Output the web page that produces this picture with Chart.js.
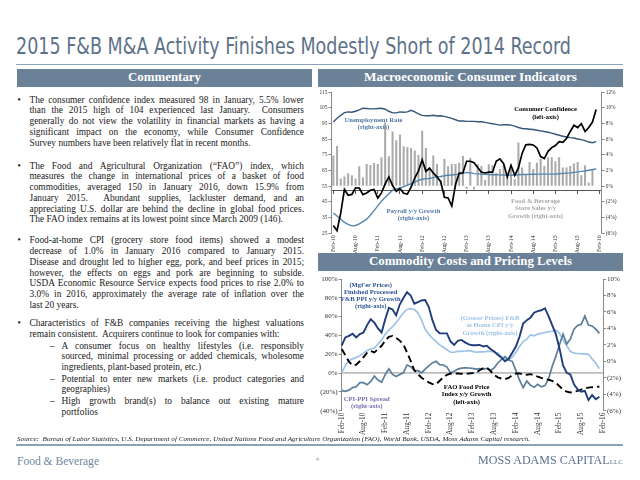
<!DOCTYPE html>
<html>
<head>
<meta charset="utf-8">
<script src="https://cdn.jsdelivr.net/npm/chart.js@4.4.1/dist/chart.umd.min.js"></script>
<style>
body { margin: 0; background: #fff; }
#page { position: relative; width: 640px; height: 480px; overflow: hidden; font-family: 'Liberation Serif', serif; color: #1a1a1a; }
.abs { position: absolute; }
.fit { display: inline-block; white-space: nowrap; transform-origin: 0 50%; }
.bar { position: absolute; background: #6b8198; color: #fff; font-weight: bold; font-size: 12px; line-height: 17.5px; height: 17.5px; }
.bar .fit { position: absolute; top: 0; }
.para { position: absolute; left: 29.5px; width: 274.5px; font-size: 9.4px; line-height: 10.75px; }
.para div { white-space: nowrap; text-align: justify; text-align-last: justify; }
.para div.last { text-align-last: left; }
.bul { position: absolute; font-size: 9.4px; line-height: 10.75px; }
.note { position: absolute; font-weight: bold; font-size: 6.6px; line-height: 7.3px; text-align: center; white-space: nowrap; transform: translateX(-50%); }
canvas { position: absolute; }
</style>
</head>
<body>
<div id="page">
  <div class="abs" style="left:16px;top:32px;font-size:23px;line-height:28px;color:#5d7289;">
    <span class="fit" data-w="555" style="font-family:'Liberation Sans Narrow','DejaVu Sans Condensed',sans-serif;">2015 F&amp;B M&amp;A Activity Finishes Modestly Short of 2014 Record</span>
  </div>
  <div class="abs" style="left:16px;top:63.5px;width:607px;height:1.6px;background:#8ea2b6;"></div>

  <div class="bar" style="left:16.5px;top:69px;width:295px;"><span class="fit" data-w="73" data-cx="147.5">Commentary</span></div>
  <div class="bar" style="left:318px;top:69px;width:305px;"><span class="fit" data-w="213" data-cx="152.5">Macroeconomic Consumer Indicators</span></div>
  <div class="bar" style="left:318px;top:253.3px;width:305px;"><span class="fit" data-w="203" data-cx="152.5">Commodity Costs and Pricing Levels</span></div>

  <div class="bul" style="left:17.5px;top:94.6px;">•</div>
  <div class="para" style="top:94.6px;">
    <div>The consumer confidence index measured 98 in January, 5.5% lower</div>
    <div>than the 2015 high of 104 experienced last January.&nbsp; Consumers</div>
    <div>generally do not view the volatility in financial markets as having a</div>
    <div>significant impact on the economy, while Consumer Confidence</div>
    <div class="last">Survey numbers have been relatively flat in recent months.</div>
  </div>

  <div class="bul" style="left:17.5px;top:160.6px;">•</div>
  <div class="para" style="top:160.6px;">
    <div>The Food and Agricultural Organization (“FAO”) index, which</div>
    <div>measures the change in international prices of a basket of food</div>
    <div>commodities, averaged 150 in January 2016, down 15.9% from</div>
    <div>January 2015.&nbsp; Abundant supplies, lackluster demand, and an</div>
    <div>appreciating U.S. dollar are behind the decline in global food prices.</div>
    <div class="last">The FAO index remains at its lowest point since March 2009 (146).</div>
  </div>

  <div class="bul" style="left:17.5px;top:235.3px;">•</div>
  <div class="para" style="top:235.3px;">
    <div>Food-at-home CPI (grocery store food items) showed a modest</div>
    <div>decrease of 1.0% in January 2016 compared to January 2015<span style="color:#c00000;">.</span></div>
    <div>Disease and drought led to higher egg, pork, and beef prices in 2015;</div>
    <div>however, the effects on eggs and pork are beginning to subside.</div>
    <div>USDA Economic Resource Service expects food prices to rise 2.0% to</div>
    <div>3.0% in 2016, approximately the average rate of inflation over the</div>
    <div class="last">last 20 years.</div>
  </div>

  <div class="bul" style="left:17.5px;top:318px;">•</div>
  <div class="para" style="top:318px;">
    <div>Characteristics of F&amp;B companies receiving the highest valuations</div>
    <div class="last">remain consistent.&nbsp; Acquirers continue to look for companies with:</div>
  </div>
  <div class="bul" style="left:50px;top:340.6px;">–</div>
  <div class="para" style="left:61.5px;width:242.5px;top:340.6px;">
    <div>A consumer focus on healthy lifestyles (i.e. responsibly</div>
    <div>sourced, minimal processing or added chemicals, wholesome</div>
    <div class="last">ingredients, plant-based protein, etc.)</div>
  </div>
  <div class="bul" style="left:50px;top:373.6px;">–</div>
  <div class="para" style="left:61.5px;width:242.5px;top:373.6px;">
    <div>Potential to enter new markets (i.e. product categories and</div>
    <div class="last">geographies)</div>
  </div>
  <div class="bul" style="left:50px;top:396.3px;">–</div>
  <div class="para" style="left:61.5px;width:242.5px;top:396.3px;">
    <div>High growth brand(s) to balance out existing mature</div>
    <div class="last">portfolios</div>
  </div>

  <canvas id="macroChart" width="320" height="180" style="left:310px;top:88px;width:320px;height:180px;"></canvas>
  <canvas id="commodityChart" width="320" height="180" style="left:310px;top:273px;width:320px;height:180px;"></canvas>

  <div class="note" style="left:545.5px;top:105.3px;color:#000;"><div>Consumer Confidence</div><div>(left-axis)</div></div>
  <div class="note" style="left:373.5px;top:115.6px;color:#4f79a6;"><div>Unemployment Rate</div><div>(right-axis)</div></div>
  <div class="note" style="left:413.5px;top:207px;color:#4f79a6;"><div>Payroll y/y Growth</div><div>(right-axis)</div></div>
  <div class="note" style="left:535.5px;top:197px;color:#a8a8a8;"><div>Food &amp; Beverage</div><div>Store Sales y/y</div><div>Growth (right-axis)</div></div>

  <div class="note" style="left:370.7px;top:280.6px;color:#2e5597;"><div>(Mgf'er Prices)</div><div>Finished Processed</div><div>F&amp;B PPI y/y Growth</div><div>(right-axis)</div></div>
  <div class="note" style="left:490px;top:314px;color:#9dc3e6;"><div>(Grocer Prices) F&amp;B</div><div>at Home CPI y/y</div><div>Growth (right-axis)</div></div>
  <div class="note" style="left:466.7px;top:383px;color:#000;"><div>FAO Food Price</div><div>Index y/y Growth</div><div>(left-axis)</div></div>
  <div class="note" style="left:366.7px;top:394.6px;color:#7b6fb0;"><div>CPI-PPI Spread</div><div>(right-axis)</div></div>

  <div class="abs" style="left:16.7px;top:434.5px;font-size:7px;line-height:9px;font-style:italic;color:#222;">
    <span class="fit" data-w="513">Source:&nbsp; Bureau of Labor Statistics, U.S. Department of Commerce, United Nations Food and Agriculture Organization (FAO), World Bank, USDA, Moss Adams Capital research.</span>
  </div>
  <div class="abs" style="left:16px;top:444px;width:607px;height:1.8px;background:#8ea2b6;"></div>

  <div class="abs" style="left:16.7px;top:452.5px;font-size:12px;line-height:16px;color:#6f87a0;"><span class="fit" data-w="82">Food &amp; Beverage</span></div>
  <div class="abs" style="left:315.5px;top:454.5px;font-size:7px;line-height:9px;color:#999;">4</div>
  <div class="abs" style="left:478px;top:452px;font-size:12px;line-height:16px;color:#5a7390;"><span class="fit" data-w="145">MOSS ADAMS CAPITAL<span style="font-size:7px;">LLC</span></span></div>
</div>

<script>
// month categories Feb-10 .. Feb-16
const monthNames = ['Jan', 'Feb', 'Mar', 'Apr', 'May', 'Jun', 'Jul', 'Aug', 'Sep', 'Oct', 'Nov', 'Dec'];
const months = [];
for (let k = 0; k < 73; k++) {
    months.push(monthNames[(1 + k) % 12] + '-' + (10 + Math.floor((1 + k) / 12)));
}

// Macroeconomic consumer indicators
const consumerConfidence = [
    30, 26.7, 38, 53, 49.3, 49.8, 54, 53.9, 49.7, 50.7,
    52.4, 53, 47.5, 50.8, 56.5, 61, 55.5, 51.8, 53.6, 50.5,
    50, 54.4, 60.3, 64.8, 72, 64.6, 66.5, 63.5, 61, 58,
    48, 47.6, 42.5, 56, 63.5, 63.5, 71, 71, 70, 67,
    64, 63.5, 64, 64, 71, 72.5, 69.5, 61, 68.4, 62,
    66.7, 76, 81.5, 81.8, 81.4, 79.5, 74, 72.7, 77.3, 79.7,
    81, 83.5, 83, 85.5, 90, 94, 92.5, 95, 90, 92.5,
    96, 104
];
const unemploymentRate = [
    8.2, 8.7, 9.06, 9.4, 9.5, 9.45, 9.58, 9.75, 9.97, 9.93,
    9.88, 9.88, 9.93, 9.97, 9.84, 9.58, 9.37, 9.37, 9.5, 9.45,
    9.5, 9.71, 9.5, 9.24, 9.06, 9.0, 9.0, 9.06, 8.98, 9.0,
    8.93, 8.8, 8.67, 8.5, 8.33, 8.33, 8.29, 8.29, 8.29, 8.24,
    8.24, 8.16, 8.07, 7.98, 7.9, 7.81, 7.86, 7.86, 7.81, 7.68,
    7.51, 7.38, 7.34, 7.29, 7.25, 7.16, 7.08, 6.99, 6.9, 6.78,
    6.65, 6.52, 6.39, 6.3, 6.21, 6.17, 6.04, 5.96, 5.83, 5.65,
    5.57, 5.7
];
const payrollGrowth = [
    -3.4, -3.8, -4.2, -4.6, -4.85, -5.05, -5.0, -4.8, -4.5, -4.2,
    -3.7, -3.1, -2.5, -1.9, -1.4, -0.95, -0.5, -0.35, -0.2, -0.05,
    0.15, 0.35, 0.55, 0.75, 0.9, 0.98, 1.0, 1.1, 1.2, 1.25,
    1.35, 1.42, 1.45, 1.5, 1.55, 1.65, 1.77, 1.72, 1.62, 1.58,
    1.55, 1.52, 1.5, 1.48, 1.47, 1.46, 1.44, 1.43, 1.42, 1.45,
    1.48, 1.5, 1.51, 1.52, 1.53, 1.55, 1.55, 1.55, 1.55, 1.55,
    1.56, 1.6, 1.65, 1.68, 1.72, 1.78, 1.84, 1.9, 1.95, 2.05,
    2.15, 2.2
];
const storeSalesGrowth = [
    3.93, 5.14, 0.99, 1.25, 1.68, 1.42, 0.99, 2.55, 1.12, 2.85,
    2.72, 2.98, 2.85, 3.71, 8.16, 3.84, 7.0, 5.87, 6.6, 5.1,
    5.0, 4.88, 4.57, 4.0, 7.08, 4.88, 2.42, 3.93, 2.85, 0.82,
    3.5, 2.55, 2.85, 2.85, 3.0, 3.9, -0.3, 3.6, -0.4, 2.8,
    2.6, 0.8, 2.8, 2.7, 1.7, 2.2, 2.7, 1.3, 2.2, 0.9,
    5.6, 2.4, 1.5, 3.1, 2.2, 3.0, 3.5, 2.6, 3.7, 3.7,
    3.2, 3.7, 2.4, 2.4, 2.6, 2.9, 3.1, 1.4, 2.7, 0.5,
    2.1
];
const macroLeftTicks = {min: 25, max: 115, step: 10};
const macroRightTicks = {min: -6, max: 12, step: 2};
const categoryCrossing = -0.6;

// Commodity costs and pricing levels
const ppiGrowth = [
    1.9, 2.9, 3.1, 3.35, 2.9, 3.3, 3.5, 4.4, 5.1, 4.7,
    4.0, 3.5, 5.1, 6.5, 6.3, 5.6, 6.9, 7.7, 8.4, 8.0,
    7.0, 7.2, 7.4, 7.45, 6.6, 5.0, 3.8, 3.4, 3.4, 3.4,
    2.4, 2.0, 2.5, 2.6, 2.3, 2.05, 1.95, 1.95, 2.0, 1.8,
    1.9, 1.5, 1.2, 0.8, 0.45, 0.0, 0.3, 1.05, 1.8, 3.0,
    4.6, 5.0, 5.3, 5.9, 6.1, 6.2, 6.45, 5.5, 4.4, 3.3,
    1.6, -0.5, -1.4, -1.6, -2.8, -3.4, -3.7, -3.6, -4.7, -4.1,
    -4.6, -4.3
];
const cpiGrowth = [
    -1.4, -0.5, 0.1, 0.3, 0.48, 0.68, 1.0, 1.3, 1.5, 1.6,
    2.1, 2.6, 3.3, 3.8, 4.2, 4.7, 5.3, 5.9, 6.3, 6.4,
    6.3, 5.9, 5.0, 3.9, 3.3, 2.8, 2.4, 2.0, 1.7, 1.4,
    1.1, 1.1, 1.2, 1.2, 1.25, 1.3, 1.2, 1.1, 1.15, 1.15,
    1.2, 1.2, 1.15, 1.0, 0.6, 0.25, 0.2, 0.5, 1.1, 1.8,
    2.4, 2.7, 3.2, 3.1, 3.3, 3.4, 3.5, 3.6, 3.65, 3.8,
    3.4, 2.6, 1.9, 1.2, 1.0, 0.95, 0.9, 0.9, 0.85, 0.3,
    -0.2, -0.9
];
const cpiPpiSpread = [
    -3.57, -3.65, -3.5, -3.2, -3.1, -2.6, -2.6, -2.85, -2.45, -1.8,
    -2.27, -2.55, -1.6, -0.9, -1.6, -1.85, -1.6, -1.4, -0.45, -0.65,
    -1.1, -1.14, -1.4, -0.94, -0.55, -0.2, 0, -0.4, -0.45, -0.7,
    -1.4, -1.2, -0.95, -0.82, -0.8, -0.81, -0.85, -0.94, -0.9, -0.94,
    -0.85, -1.14, -0.8, -0.2, 0.2, 0.56, 0.15, 0.0, -1.1, -2.3,
    -3.2, -2.4, -2.9, -3.16, -2.8, -3.1, -2.95, -2.15, -0.6, 0.6,
    2.0, 3.3, 2.1, 2.7, 3.9, 4.35, 4.5, 5.5, 4.4, 4.3,
    3.9, 3.4
];
const faoGrowth = [
    25.5, 19, 12, 8, 9, 12.5, 17, 21.5, 23.5, 22,
    25.5, 29, 34.5, 38.5, 39.5, 37.5, 34.5, 30.5, 22, 13,
    3, -1, -4.9, -7.4, -9.9, -11.8, -12, -8.2, -4.5, -1.8,
    -0.5, -0.4, -0.4, -0.8, -0.8, -0.5, 0, 0.5, 3, 5.3,
    5.8, 2.3, -2, -4.5, -5.8, -6.4, -5.2, -2.3, -0.5, -0.4,
    -1.4, -1.8, -1.1, -2.3, -3.8, -5.2, -6.4, -7.1, -8.4, -10.2,
    -14, -17.5, -19.8, -20.6, -19.9, -18.9, -17.5, -16.2, -15.5, -15,
    -14.6, -14.5
];
const commodityLeftTicks = {min: -40, max: 100, step: 20};
const commodityRightTicks = {min: -6, max: 10, step: 2};

Chart.defaults.font.family = "'Liberation Serif', serif";
Chart.defaults.color = '#333';
Chart.defaults.animation = false;

function pct(v) {
    return v < 0 ? '(' + (-v) + '%)' : v + '%';
}

function sideAxis(position, range, fontSize, width, fmt) {
    return {
        position: position,
        min: range.min,
        max: range.max,
        grid: {drawOnChartArea: false, tickLength: 3, color: '#8a8a8a'},
        border: {display: true, color: '#8a8a8a'},
        ticks: {stepSize: range.step, font: {size: fontSize}, padding: 1, callback: fmt},
        afterFit: function (scale) { scale.width = width; }
    };
}

function monthAxis(fontSize, height, offset) {
    return {
        type: 'category',
        offset: offset,
        grid: {display: false, drawTicks: false, tickLength: 0},
        border: {display: false},
        ticks: {
            autoSkip: false, minRotation: 90, maxRotation: 90, padding: 2,
            font: {size: fontSize}, callback: (v, i) => i % 6 === 0 ? months[i] : ''
        },
        afterFit: function (scale) { scale.height = height; }
    };
}

new Chart(document.getElementById('macroChart'), {
    data: {
        labels: months,
        datasets: [
            {type: 'line', data: consumerConfidence, yAxisID: 'yL', borderColor: '#000', borderWidth: 1.7, pointRadius: 0},
            {type: 'line', data: unemploymentRate, yAxisID: 'yR', borderColor: '#34557a', borderWidth: 1.4, pointRadius: 0},
            {type: 'line', data: payrollGrowth, yAxisID: 'yR', borderColor: '#5786ad', borderWidth: 1.4, pointRadius: 0},
            {type: 'bar', data: storeSalesGrowth, yAxisID: 'yR', backgroundColor: '#aaaaaa', barPercentage: 0.55, categoryPercentage: 1}
        ]
    },
    options: {
        responsive: false,
        layout: {padding: {top: 4.3, left: 0, right: 0, bottom: 0}},
        plugins: {legend: {display: false}, tooltip: {enabled: false}},
        scales: {
            x: monthAxis(5.9, 34.7, true),
            xCross: {
                type: 'category',
                labels: months,
                offset: true,
                position: {yR: categoryCrossing},
                border: {display: true, color: '#555', width: 1},
                grid: {drawOnChartArea: false, tickLength: 3, color: ctx => ctx.index % 6 === 0 ? '#555' : 'rgba(0,0,0,0)'},
                ticks: {autoSkip: false, maxRotation: 0, font: {size: 1}, callback: () => ''}
            },
            yL: sideAxis('left', macroLeftTicks, 5.4, 21.5, v => v),
            yR: sideAxis('right', macroRightTicks, 5.4, 28.3, pct)
        }
    }
});

new Chart(document.getElementById('commodityChart'), {
    type: 'line',
    data: {
        labels: months,
        datasets: [
            {data: ppiGrowth, yAxisID: 'yR', borderColor: '#1f3d7a', borderWidth: 1.9, pointRadius: 0},
            {data: faoGrowth, yAxisID: 'yL', borderColor: '#000', borderWidth: 1.9, borderDash: [7, 4], pointRadius: 0},
            {data: cpiPpiSpread, yAxisID: 'yR', borderColor: '#5b7e9b', borderWidth: 1.7, pointRadius: 0},
            {data: cpiGrowth, yAxisID: 'yR', borderColor: '#9ec3e6', borderWidth: 1.7, pointRadius: 0}
        ]
    },
    options: {
        responsive: false,
        layout: {padding: {top: 6, left: 0, right: 0, bottom: 0}},
        plugins: {legend: {display: false}, tooltip: {enabled: false}},
        scales: {
            x: monthAxis(7.3, 42.3, false),
            xZero: {
                type: 'category',
                labels: months,
                position: {yL: 0},
                border: {display: true, color: '#bdbdbd', width: 1.8},
                grid: {display: false},
                ticks: {autoSkip: false, maxRotation: 0, font: {size: 1}, callback: () => ''}
            },
            yL: sideAxis('left', commodityLeftTicks, 7, 31.7, pct),
            yR: sideAxis('right', commodityRightTicks, 7, 27, pct)
        }
    }
});

// squeeze text runs to the widths they take on the slide
function fitTexts() {
    document.querySelectorAll('.fit').forEach(function (el) {
        const w = parseFloat(el.dataset.w);
        const natural = el.getBoundingClientRect().width;
        el.style.transform = 'scaleX(' + (w / natural) + ')';
        if (el.dataset.cx) {
            el.style.left = (parseFloat(el.dataset.cx) - w / 2) + 'px';
        }
    });
}
document.fonts.ready.then(fitTexts);
</script>
</body>
</html>
